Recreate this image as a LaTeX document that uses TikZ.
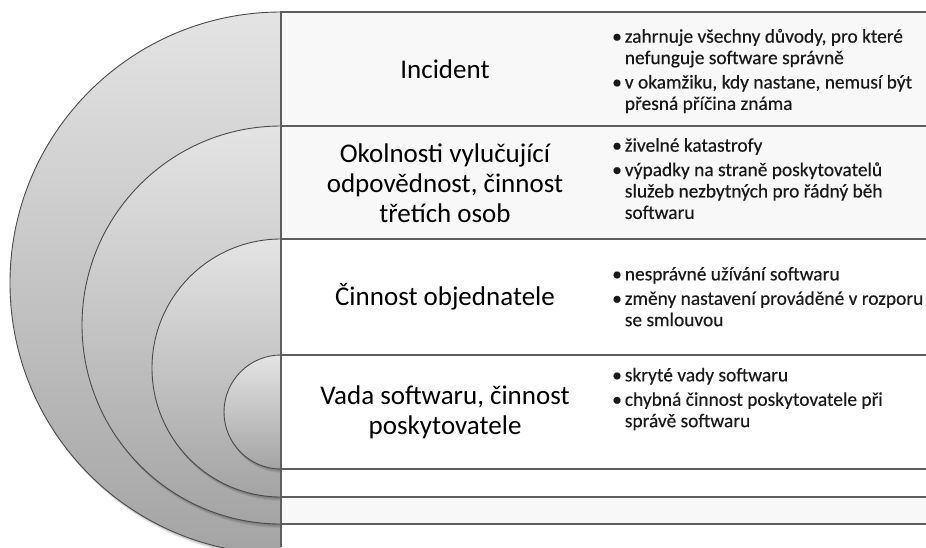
\documentclass[tikz,border=0pt]{standalone}
\usepackage{fontspec}
\setmainfont{Carlito}
\newfontfamily\bulletfont[FakeBold=0.35]{Carlito}
\definecolor{linegray}{HTML}{5E5E5E}
\definecolor{ringline}{HTML}{4A4A4A}
\definecolor{ringtop}{HTML}{E4E4E4}
\definecolor{ringbot}{HTML}{A4A4A4}
\definecolor{rowgray}{HTML}{F8F8F8}
\newcommand{\bl}{\textbullet}
\begin{document}
\begin{tikzpicture}[x=1pt,y=-1pt,
  rule/.style={draw=linegray,line width=1.5pt},
  ring/.style={draw=ringline,line width=0.9pt,top color=ringtop,bottom color=ringbot},
  ringshadow/.style={fill=black,opacity=0.07},
  lefttext/.style={font=\fontsize{27}{30}\selectfont,align=center,text=black,inner sep=0pt},
  righttext/.style={font=\bulletfont\fontsize{19.4}{21.4}\selectfont,anchor=west,inner sep=0pt,text=black!90},
]
\useasboundingbox (0,0) rectangle (926,547);
% row backgrounds
\fill[rowgray] (281,12) rectangle (926,126);
\fill[rowgray] (281,126) rectangle (926,239);
\fill[rowgray] (281,497) rectangle (926,524);
% rings
\begin{scope}
  \clip (-20,-20) rectangle (281,570);
  \foreach \cy/\r in {283/271,325/199,368/129,412/57}{
    \foreach \k in {1,...,4}{
      \fill[ringshadow] (281+0.5*\k,\cy+\k) circle[radius=\r];
    }
    \draw[ring] (281,\cy) circle[radius=\r];
  }
\end{scope}
% rules
\draw[rule] (281,12) -- (926,12);
\draw[rule] (281,126) -- (926,126);
\draw[rule] (281,239) -- (926,239);
\draw[rule] (281,355) -- (926,355);
\draw[rule] (281,469) -- (926,469);
\draw[rule] (281,497) -- (926,497);
\draw[rule] (281,524) -- (926,524);
\draw[rule] (281,11.25) -- (281,547);
% left texts
\node[lefttext] (t1) at (445,69) {Incident};
\node[lefttext] (t2) at (445,183) {Okolnosti vylučující\\odpovědnost, činnost\\třetích osob};
\node[lefttext] (t3) at (445,297) {Činnost objednatele};
\node[lefttext] (t4) at (445,412) {Vada softwaru, činnost\\poskytovatele};
% right texts
\node[righttext] (r1) at (612,72) {\begin{tabular}{@{}l@{\hspace{3pt}}l@{}}\bl&zahrnuje všechny důvody, pro které\\&nefunguje software správně\\[3pt]\bl&v okamžiku, kdy nastane, nemusí být\\&přesná příčina známa\end{tabular}};
\node[righttext] (r2) at (612,181) {\begin{tabular}{@{}l@{\hspace{3pt}}l@{}}\bl&živelné katastrofy\\[3pt]\bl&výpadky na straně poskytovatelů\\&služeb nezbytných pro řádný běh\\&softwaru\end{tabular}};
\node[righttext] (r3) at (612,299) {\begin{tabular}{@{}l@{\hspace{3pt}}l@{}}\bl&nesprávné užívání  softwaru\\[3pt]\bl&změny nastavení prováděné v rozporu\\&se smlouvou\end{tabular}};
\node[righttext] (r4) at (612,400) {\begin{tabular}{@{}l@{\hspace{3pt}}l@{}}\bl&skryté vady softwaru\\[3pt]\bl&chybná činnost poskytovatele při\\&správě softwaru\end{tabular}};
\end{tikzpicture}
\end{document}
